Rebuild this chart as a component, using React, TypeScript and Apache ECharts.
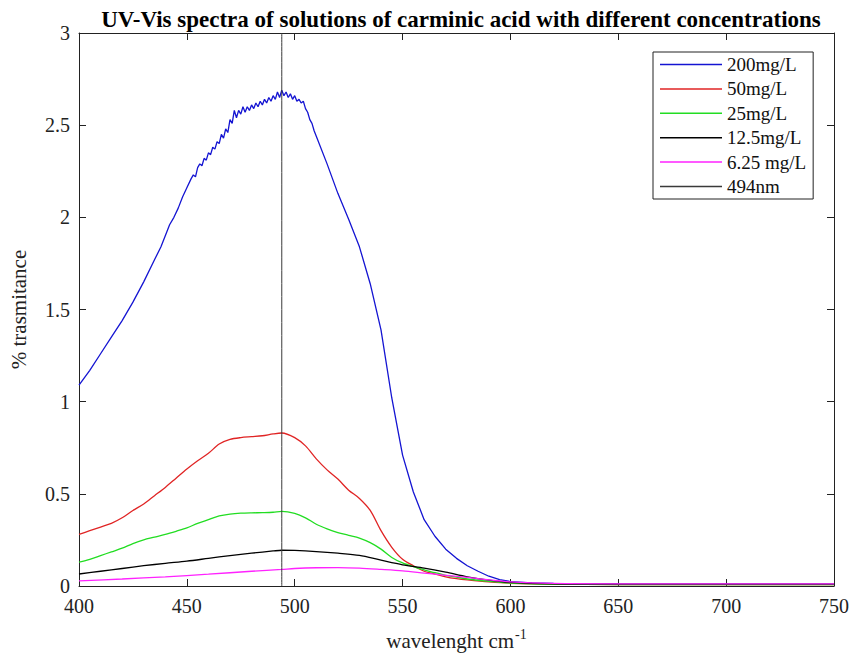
import React, { useEffect, useRef } from "react";
import * as echarts from "echarts";

const titleText = "UV-Vis spectra of solutions of carminic acid with different concentrations";
const seriesNames = ["200mg/L", "50mg/L", "25mg/L", "12.5mg/L", "6.25 mg/L", "494nm"];
const seriesColors = ["#1414d2", "#e02424", "#22dd22", "#000000", "#ff22ff", "#3a3a3a"];
const xTicks = [400, 750, 50];
const yTicks = [0, 3, 0.5];

const spectrum200: number[][] = [
  [400, 1.09], [405, 1.17], [410, 1.26], [415, 1.35], [420, 1.44], [425, 1.54], [430, 1.65],
  [435, 1.77], [438, 1.84], [440, 1.90], [442, 1.96], [444, 2.0], [446, 2.05], [448, 2.11],
  [450, 2.16], [452, 2.21], [453, 2.23], [454, 2.22], [455, 2.27], [456, 2.29], [457, 2.28],
  [458, 2.32], [459, 2.31], [460, 2.35], [461, 2.34], [462, 2.38], [463, 2.37], [464, 2.41],
  [465, 2.4], [466, 2.45], [467, 2.43], [468, 2.48], [469, 2.46], [470, 2.53], [471, 2.51],
  [472, 2.58], [473, 2.54], [474, 2.58], [475, 2.56], [476, 2.6], [477, 2.57], [478, 2.6],
  [479, 2.58], [480, 2.61], [481, 2.59], [482, 2.62], [483, 2.6], [484, 2.63], [485, 2.61],
  [486, 2.64], [487, 2.62], [488, 2.65], [489, 2.63], [490, 2.66], [491, 2.64], [492, 2.68],
  [493, 2.65], [494, 2.69], [495, 2.66], [496, 2.68], [497, 2.65], [498, 2.67], [499, 2.64],
  [500, 2.66], [501, 2.63], [502, 2.64], [503, 2.62], [504, 2.63], [505, 2.59], [506, 2.57],
  [507, 2.53], [508, 2.51], [509, 2.47], [510, 2.44],
  [515, 2.29], [520, 2.13], [525, 1.99], [530, 1.84], [535, 1.64], [540, 1.39], [545, 1.02],
  [550, 0.71], [555, 0.51], [560, 0.36], [565, 0.27], [570, 0.2], [575, 0.15], [580, 0.11],
  [585, 0.08], [590, 0.053], [595, 0.035], [600, 0.024], [610, 0.017], [620, 0.014],
  [650, 0.011], [700, 0.01], [750, 0.01],
];

const spectrum50: number[][] = [
  [400, 0.28], [405, 0.3], [410, 0.32], [415, 0.34], [420, 0.37], [425, 0.41], [430, 0.445],
  [435, 0.49], [440, 0.535], [445, 0.585], [450, 0.635], [455, 0.68], [460, 0.72], [465, 0.77],
  [470, 0.795], [475, 0.805], [480, 0.81], [485, 0.815], [490, 0.825], [494, 0.83], [500, 0.805],
  [505, 0.76], [510, 0.69], [515, 0.63], [520, 0.58], [525, 0.52], [530, 0.475], [535, 0.41],
  [540, 0.3], [545, 0.21], [550, 0.145], [555, 0.11], [560, 0.08], [565, 0.065], [570, 0.05],
  [575, 0.04], [580, 0.033], [590, 0.022], [600, 0.015], [620, 0.01], [650, 0.008],
  [700, 0.008], [750, 0.008],
];

const spectrum25: number[][] = [
  [400, 0.13], [405, 0.145], [410, 0.165], [415, 0.185], [420, 0.205], [425, 0.23], [430, 0.25],
  [435, 0.265], [440, 0.28], [445, 0.297], [450, 0.315], [455, 0.34], [460, 0.36], [465, 0.38],
  [470, 0.39], [475, 0.395], [480, 0.397], [485, 0.398], [490, 0.4], [494, 0.405], [500, 0.394],
  [505, 0.37], [510, 0.335], [515, 0.31], [520, 0.29], [525, 0.275], [530, 0.26], [535, 0.235],
  [540, 0.2], [545, 0.155], [550, 0.125], [555, 0.105], [560, 0.088], [565, 0.072], [570, 0.058],
  [575, 0.048], [580, 0.038], [590, 0.025], [600, 0.016], [620, 0.01], [650, 0.008],
  [750, 0.008],
];

const spectrum12: number[][] = [
  [400, 0.065], [410, 0.08], [420, 0.095], [430, 0.11], [440, 0.123], [450, 0.135], [460, 0.15],
  [470, 0.165], [480, 0.178], [490, 0.19], [494, 0.194], [500, 0.193], [510, 0.187], [520, 0.178],
  [530, 0.166], [540, 0.14], [550, 0.115], [560, 0.097], [570, 0.075], [580, 0.05], [590, 0.032],
  [600, 0.02], [620, 0.012], [650, 0.01], [750, 0.01],
];

const spectrum6: number[][] = [
  [400, 0.028], [420, 0.038], [440, 0.05], [460, 0.064], [480, 0.08], [494, 0.09], [500, 0.095],
  [510, 0.099], [520, 0.1], [530, 0.097], [540, 0.09], [550, 0.082], [560, 0.07], [570, 0.058],
  [580, 0.047], [590, 0.033], [600, 0.022], [620, 0.014], [650, 0.012], [700, 0.012],
  [750, 0.012],
];

const markerWavelength = 494;
const markerLine: number[][] = [[markerWavelength, 0], [markerWavelength, 3]];

const allData = [spectrum200, spectrum50, spectrum25, spectrum12, spectrum6, markerLine];

const FONT = '"Liberation Serif", "Times New Roman", serif';

export default function App() {
  const ref = useRef<HTMLDivElement>(null);
  useEffect(() => {
    document.body.style.margin = "0";
    if (!ref.current) return;
    const chart = echarts.init(ref.current, null, { renderer: "svg" });
    const axisCommon = {
      type: "value" as const,
      axisLine: { show: true, onZero: false, lineStyle: { color: "#222", width: 1 } },
      axisTick: { show: true, inside: true, length: 7, lineStyle: { color: "#222" } },
      splitLine: { show: false },
    };
    chart.setOption({
      animation: false,
      backgroundColor: "#fff",
      title: {
        text: titleText,
        left: 456,
        top: 3,
        textAlign: "center",
        textStyle: { fontFamily: FONT, fontWeight: "bold", fontSize: 23, color: "#000" },
      },
      grid: { left: 77, right: 19, top: 33, bottom: 75, containLabel: false },
      legend: {
        data: seriesNames,
        orient: "vertical",
        left: 653,
        top: 52,
        icon: "rect",
        itemWidth: 62,
        itemHeight: 1.5,
        itemGap: 5.4,
        padding: [3, 7, 3, 7],
        backgroundColor: "#fff",
        borderColor: "#222",
        borderWidth: 1,
        borderRadius: 0,
        textStyle: { fontFamily: FONT, fontSize: 19, color: "#111", padding: [0, 0, 0, 0] },
      },
      xAxis: [
        {
          ...axisCommon,
          position: "bottom",
          min: xTicks[0],
          max: xTicks[1],
          interval: xTicks[2],
          axisLabel: { fontFamily: FONT, fontSize: 20, color: "#222", margin: 10 },
          name: "wavelenght cm{sup|-1}",
          nameLocation: "middle",
          nameGap: 41,
          nameTextStyle: {
            fontFamily: FONT,
            fontSize: 21,
            color: "#222",
            rich: {
              sup: { fontFamily: FONT, fontSize: 14, color: "#222", verticalAlign: "top", padding: [0, 0, 14, 1] },
            },
          },
        },
        {
          ...axisCommon,
          position: "top",
          min: xTicks[0],
          max: xTicks[1],
          interval: xTicks[2],
          axisLabel: { show: false },
        },
      ],
      yAxis: [
        {
          ...axisCommon,
          position: "left",
          min: yTicks[0],
          max: yTicks[1],
          interval: yTicks[2],
          axisLabel: { fontFamily: FONT, fontSize: 20, color: "#222", margin: 9 },
          name: "% trasmitance",
          nameLocation: "middle",
          nameGap: 50,
          nameRotate: 90,
          nameTextStyle: { fontFamily: FONT, fontSize: 21, color: "#222" },
        },
        {
          ...axisCommon,
          position: "right",
          min: yTicks[0],
          max: yTicks[1],
          interval: yTicks[2],
          axisLabel: { show: false },
        },
      ],
      series: allData.map((d, i) => ({
        name: seriesNames[i],
        type: "line",
        data: d,
        xAxisIndex: 0,
        yAxisIndex: 0,
        symbol: "none",
        smooth: i === 0 ? false : 0.3,
        color: seriesColors[i],
        itemStyle: { color: seriesColors[i] },
        lineStyle: { color: seriesColors[i], width: i === 5 ? 1 : 1.3 },
        z: i === 5 ? 3 : 2,
      })),
    });
    return () => chart.dispose();
  }, []);
  return <div ref={ref} style={{ width: 853, height: 661 }} />;
}
